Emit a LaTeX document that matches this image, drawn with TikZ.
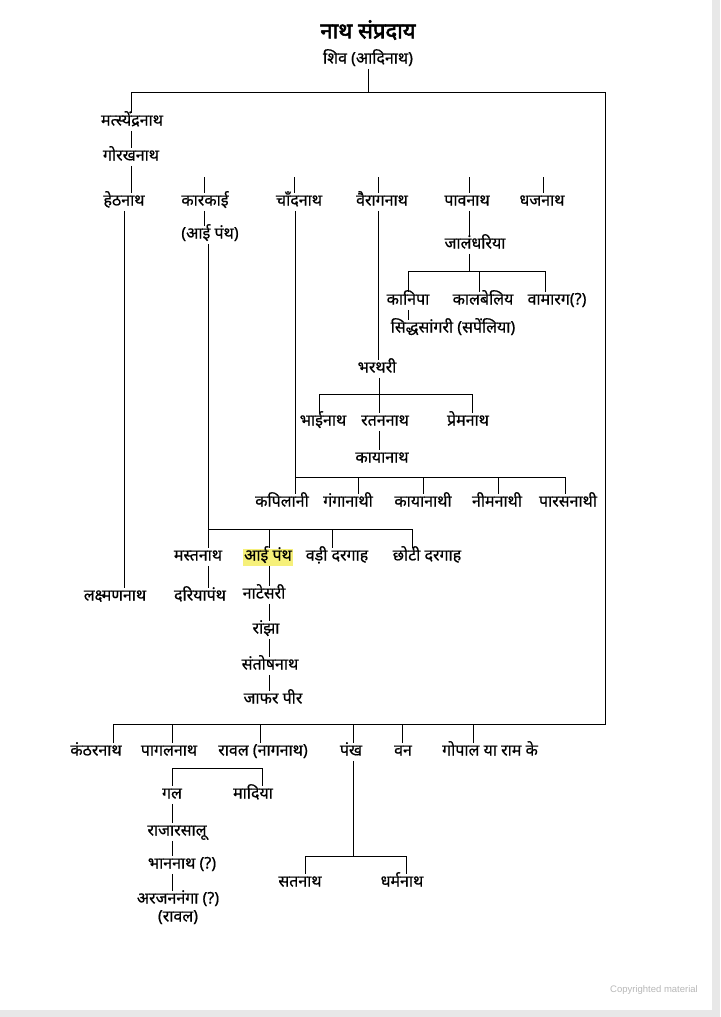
\documentclass[tikz,border=0pt]{standalone}
\usepackage{fontspec}
\newfontfamily\deva[Script=Devanagari,FakeBold=0.6]{Noto Sans}
\newfontfamily\devab[Script=Devanagari,FakeBold=2.5]{Noto Sans}
\newfontfamily\latn{Liberation Sans}
\definecolor{hilite}{RGB}{246,240,122}
\definecolor{pagegray}{RGB}{232,232,232}

\begin{document}
\begin{tikzpicture}[x=1pt, y=-1pt,
  nath/.style={font=\deva\fontsize{16}{18}\selectfont, inner sep=1pt, text height=11pt, text depth=4pt},
  heading/.style={font=\devab\fontsize{22}{24}\selectfont, inner sep=1pt}]
\useasboundingbox (0,0) rectangle (720,1017);
\fill[pagegray] (0,0) rectangle (720,1017);
\fill[white] (0,0) rectangle (712,1010);
\begin{scope}[line width=0.8pt]

  % title and root
  \node[heading] (title) at (368,30) {नाथ संप्रदाय};
  \node[nath] (shiv) at (368,60) {शिव (आदिनाथ)};
  \coordinate (topL) at (131,92);
  \coordinate (topR) at (605,92);
  \draw (shiv.south) -- (shiv.south |- topL);
  \draw (topL) -- (topR);

  % left line down to row two
  \node[nath] (matsy) at (132,122) {मत्स्येंद्रनाथ};
  \node[nath] (gorakh) at (131,157) {गोरखनाथ};
  \draw (topL) -- (topL |- matsy.north);
  \draw (matsy.south -| topL) -- (gorakh.north -| topL);

  % row two
  \node[nath] (heth) at (124,202) {हेठनाथ};
  \node[nath] (kar) at (205,202) {कारकाई};
  \node[nath] (chand) at (299,202) {चाँदनाथ};
  \node[nath] (vair) at (382,202) {वैरागनाथ};
  \node[nath] (paav) at (467,202) {पावनाथ};
  \node[nath] (dhaj) at (542,202) {धजनाथ};
  \draw (gorakh.south -| topL) -- (heth.north -| topL);
  \coordinate (karT) at (204,177);
  \coordinate (chandT) at (294,177);
  \coordinate (vairT) at (378,177);
  \coordinate (paavT) at (469,177);
  \coordinate (dhajT) at (543,177);
  \foreach \t/\n in {karT/kar, chandT/chand, vairT/vair, paavT/paav, dhajT/dhaj}
    \draw (\t) -- (\t |- \n.north);

  % hethnath
  \node[nath] (laksh) at (115,597) {लक्ष्मणनाथ};
  \draw (heth.south) -- (heth.south |- laksh.north);

  % karkai
  \node[nath] (aipanth) at (210,235) {(आई पंथ)};
  \draw (kar.south -| karT) -- (aipanth.north -| karT);
  \coordinate (mastJ) at (208,529);
  \coordinate (aaiJ) at (269,529);
  \coordinate (badiJ) at (332,529);
  \coordinate (chhotiJ) at (412,529);
  \draw (aipanth.south -| mastJ) -- (mastJ) -- (chhotiJ);
  \node[nath] (mast) at (198,557) {मस्तनाथ};
  \node[nath, fill=hilite] (aai) at (268,557) {आई पंथ};
  \node[nath] (badi) at (337,557) {वड़ी दरगाह};
  \node[nath] (chhoti) at (427,557) {छोटी दरगाह};
  \foreach \j/\n in {mastJ/mast, aaiJ/aai, badiJ/badi, chhotiJ/chhoti}
    \draw (\j) -- (\j |- \n.north);
  \node[nath] (darya) at (200,597) {दरियापंथ};
  \draw (mast.south -| mastJ) -- (darya.north -| mastJ);
  \node[nath] (nate) at (264,595) {नाटेसरी};
  \node[nath] (ranjha) at (266,630) {रांझा};
  \node[nath] (santosh) at (270,666) {संतोषनाथ};
  \node[nath] (jafar) at (273,700) {जाफर पीर};
  \draw (aai.south -| aaiJ) -- (nate.north -| aaiJ);
  \draw (nate.south -| aaiJ) -- (ranjha.north -| aaiJ);
  \draw (ranjha.south -| aaiJ) -- (santosh.north -| aaiJ);
  \draw (santosh.south -| aaiJ) -- (jafar.north -| aaiJ);

  % chandnath
  \coordinate (kapJ) at (295,477);
  \coordinate (gangaJ) at (358,477);
  \coordinate (kayaJ) at (423,477);
  \coordinate (neemJ) at (498,477);
  \coordinate (parasJ) at (565,477);
  \draw (chand.south -| kapJ) -- (kapJ) -- (parasJ);
  \node[nath] (kapil) at (282,503) {कपिलानी};
  \node[nath] (ganga) at (348,503) {गंगानाथी};
  \node[nath] (kayathi) at (423,503) {कायानाथी};
  \node[nath] (neem) at (497,503) {नीमनाथी};
  \node[nath] (paras) at (568,503) {पारसनाथी};
  \foreach \j/\n in {kapJ/kapil, gangaJ/ganga, kayaJ/kayathi, neemJ/neem, parasJ/paras}
    \draw (\j) -- (\j |- \n.north);

  % vairagnath
  \node[nath] (bhar) at (377,369) {भरथरी};
  \draw (vair.south -| vairT) -- (bhar.north -| vairT);
  \coordinate (bhaiJ) at (319,394);
  \coordinate (ratJ) at (379,394);
  \coordinate (premJ) at (472,394);
  \draw (bhar.south -| ratJ) -- (ratJ);
  \draw (bhaiJ) -- (premJ);
  \node[nath] (bhai) at (323,422) {भाईनाथ};
  \node[nath] (ratan) at (385,422) {रतननाथ};
  \node[nath] (prem) at (468,422) {प्रेमनाथ};
  \foreach \j/\n in {bhaiJ/bhai, ratJ/ratan, premJ/prem}
    \draw (\j) -- (\j |- \n.north);
  \node[nath] (kaya) at (382,459) {कायानाथ};
  \draw (ratan.south -| ratJ) -- (kaya.north -| ratJ);

  % paavnath
  \node[nath] (jal) at (475,245) {जालंधरिया};
  \draw (paav.south -| paavT) -- (jal.north -| paavT);
  \coordinate (kaniJ) at (408,271);
  \coordinate (kalJ) at (479,271);
  \coordinate (vamJ) at (545,271);
  \draw (jal.south -| paavT) -- (paavT |- kaniJ);
  \draw (kaniJ) -- (vamJ);
  \node[nath] (kani) at (408,301) {कानिपा};
  \node[nath] (kal) at (483,301) {कालबेलिय};
  \node[nath] (vam) at (557,301) {वामारग(?)};
  \foreach \j/\n in {kaniJ/kani, kalJ/kal, vamJ/vam}
    \draw (\j) -- (\j |- \n.north);
  \node[nath] (siddh) at (453,329) {सिद्धसांगरी (सपेंलिया)};
  \draw (kani.south -| kaniJ) -- (siddh.north -| kaniJ);

  % right side and bottom row
  \coordinate (botL) at (113,724);
  \coordinate (botR) at (605,724);
  \draw (topR) -- (botR) -- (botL);
  \node[nath] (kanth) at (96,752) {कंठरनाथ};
  \node[nath] (pagal) at (169,752) {पागलनाथ};
  \node[nath] (raval) at (263,752) {रावल (नागनाथ)};
  \node[nath] (pankh) at (351,752) {पंख};
  \node[nath] (van) at (403,752) {वन};
  \node[nath] (gopal) at (490,752) {गोपाल या राम के};
  \coordinate (pagalJ) at (172,724);
  \coordinate (ravalJ) at (260,724);
  \coordinate (pankhJ) at (353,724);
  \coordinate (vanJ) at (402,724);
  \coordinate (gopalJ) at (473,724);
  \foreach \j/\n in {botL/kanth, pagalJ/pagal, ravalJ/raval, pankhJ/pankh, vanJ/van, gopalJ/gopal}
    \draw (\j) -- (\j |- \n.north);

  % gal and madiya
  \coordinate (galJ) at (172,768);
  \coordinate (madJ) at (262,768);
  \draw (galJ) -- (madJ);
  \node[nath] (gal) at (172,795) {गल};
  \node[nath] (madi) at (253,795) {मादिया};
  \draw (galJ) -- (galJ |- gal.north);
  \draw (madJ) -- (madJ |- madi.north);
  \node[nath] (raja) at (177,832) {राजारसालू};
  \node[nath] (bhan) at (182,865) {भाननाथ (?)};
  \node[nath] (arjun) at (178,900) {अरजननंगा (?)};
  \node[nath] (arjunb) at (178,918) {(रावल)};
  \draw (gal.south -| galJ) -- (raja.north -| galJ);
  \draw (raja.south -| galJ) -- (bhan.north -| galJ);
  \draw (bhan.south -| galJ) -- (arjun.north -| galJ);

  % pankh
  \coordinate (satJ) at (305,856);
  \coordinate (dharmJ) at (406,856);
  \draw (pankh.south -| pankhJ) -- (pankhJ |- satJ);
  \draw (satJ) -- (dharmJ);
  \node[nath] (sat) at (300,883) {सतनाथ};
  \node[nath] (dharm) at (402,883) {धर्मनाथ};
  \draw (satJ) -- (satJ |- sat.north);
  \draw (dharmJ) -- (dharmJ |- dharm.north);
\end{scope}

  % watermark
  \node[font=\latn\fontsize{9.5}{11}\selectfont, text=black!28] (copy) at (654,990) {Copyrighted material};
\end{tikzpicture}
\end{document}
